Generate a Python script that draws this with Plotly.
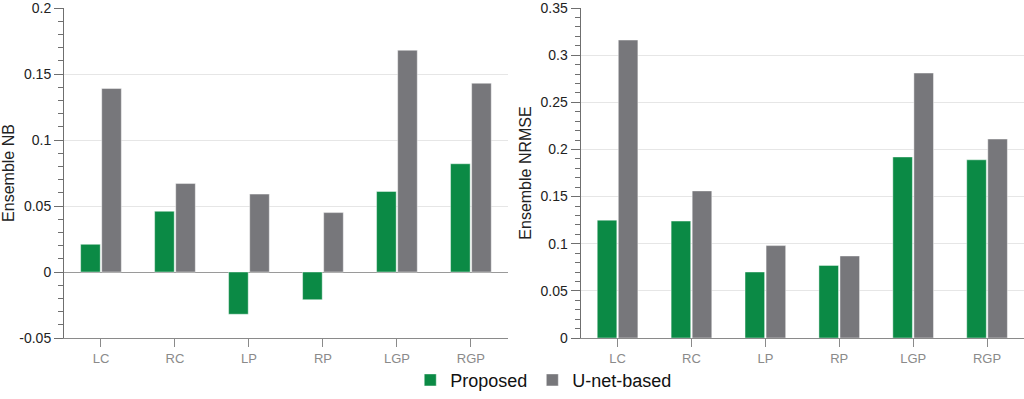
import plotly.graph_objects as go

categories = ["LC", "RC", "LP", "RP", "LGP", "RGP"]
nb_proposed = [0.021, 0.046, -0.032, -0.021, 0.061, 0.082]
nb_unet = [0.139, 0.067, 0.059, 0.045, 0.168, 0.143]
nrmse_proposed = [0.125, 0.124, 0.070, 0.077, 0.192, 0.189]
nrmse_unet = [0.316, 0.156, 0.098, 0.087, 0.281, 0.211]
series_names = ["Proposed", "U-net-based"]
nb_ticks = [-0.05, 0, 0.05, 0.1, 0.15, 0.2]
nb_ticktext = ["-0.05", "0", "0.05", "0.1", "0.15", "0.2"]
nrmse_ticks = [0, 0.05, 0.1, 0.15, 0.2, 0.25, 0.3, 0.35]
nrmse_ticktext = ["0", "0.05", "0.1", "0.15", "0.2", "0.25", "0.3", "0.35"]

GREEN = "#0b8a45"
GRAY = "#77777b"
FONT = "Liberation Sans, Arial, sans-serif"
TITLE_FONT = dict(size=16, color="#222222", family=FONT)

fig = go.Figure()
edge = dict(color="rgba(255,255,255,0.55)", width=0.8)
fig.add_trace(go.Bar(x=categories, y=nb_proposed, name=series_names[0], marker=dict(color=GREEN, line=edge),
                     xaxis="x", yaxis="y", legendgroup="p"))
fig.add_trace(go.Bar(x=categories, y=nb_unet, name=series_names[1], marker=dict(color=GRAY, line=edge),
                     xaxis="x", yaxis="y", legendgroup="u"))
fig.add_trace(go.Bar(x=categories, y=nrmse_proposed, name=series_names[0], marker=dict(color=GREEN, line=edge),
                     xaxis="x2", yaxis="y2", legendgroup="p", showlegend=False))
fig.add_trace(go.Bar(x=categories, y=nrmse_unet, name=series_names[1], marker=dict(color=GRAY, line=edge),
                     xaxis="x2", yaxis="y2", legendgroup="u", showlegend=False))

xcommon = dict(showline=True, linecolor="#8a8a8a", linewidth=1, ticks="outside", ticklen=8,
               tickcolor="#8a8a8a", tickfont=dict(size=13, color="#8a8a8a", family=FONT),
               showgrid=False, zeroline=False, range=[-0.5, 5.5], fixedrange=True)
ycommon = dict(showline=True, linecolor="#6f6f6f", linewidth=1, ticks="outside", ticklen=9,
               tickcolor="#6f6f6f", tickfont=dict(size=14, color="#222222", family=FONT),
               ticklabeloverflow="allow",
               showgrid=True, gridcolor="#e6e6e6", gridwidth=1,
               minor=dict(dtick=0.01, ticks="outside", ticklen=5, tickcolor="#6f6f6f", showgrid=False))

fig.update_layout(
    width=1024, height=399,
    margin=dict(l=0, r=0, t=5, b=61),
    paper_bgcolor="white", plot_bgcolor="white",
    barmode="group", bargap=0.43, bargroupgap=0.07,
    font=dict(family=FONT, color="#222222"),
    xaxis=dict(domain=[0.0625, 0.496], anchor="y", **xcommon),
    xaxis2=dict(domain=[0.567, 1.0], anchor="y2", **xcommon),
    yaxis=dict(domain=[0, 1], anchor="x", range=[-0.05, 0.2], tickvals=nb_ticks, ticktext=nb_ticktext,
               zeroline=True, zerolinecolor="#9a9a9a", zerolinewidth=1,
               title=dict(text="Ensemble NB", standoff=4, font=TITLE_FONT), **ycommon),
    yaxis2=dict(domain=[0, 1], anchor="x2", range=[0, 0.35], tickvals=nrmse_ticks, ticktext=nrmse_ticktext,
                zeroline=False, title=dict(text="Ensemble NRMSE", standoff=4, font=TITLE_FONT), **ycommon),
    legend=dict(orientation="h", x=0.531, xanchor="center", y=-0.128, yanchor="middle",
                font=dict(size=18, color="#111111", family=FONT), bgcolor="rgba(0,0,0,0)",
                itemwidth=30, tracegroupgap=0),
    showlegend=True,
)

fig.write_html("out.html", config={"displayModeBar": False},
               post_script="document.body.style.margin='0';")
